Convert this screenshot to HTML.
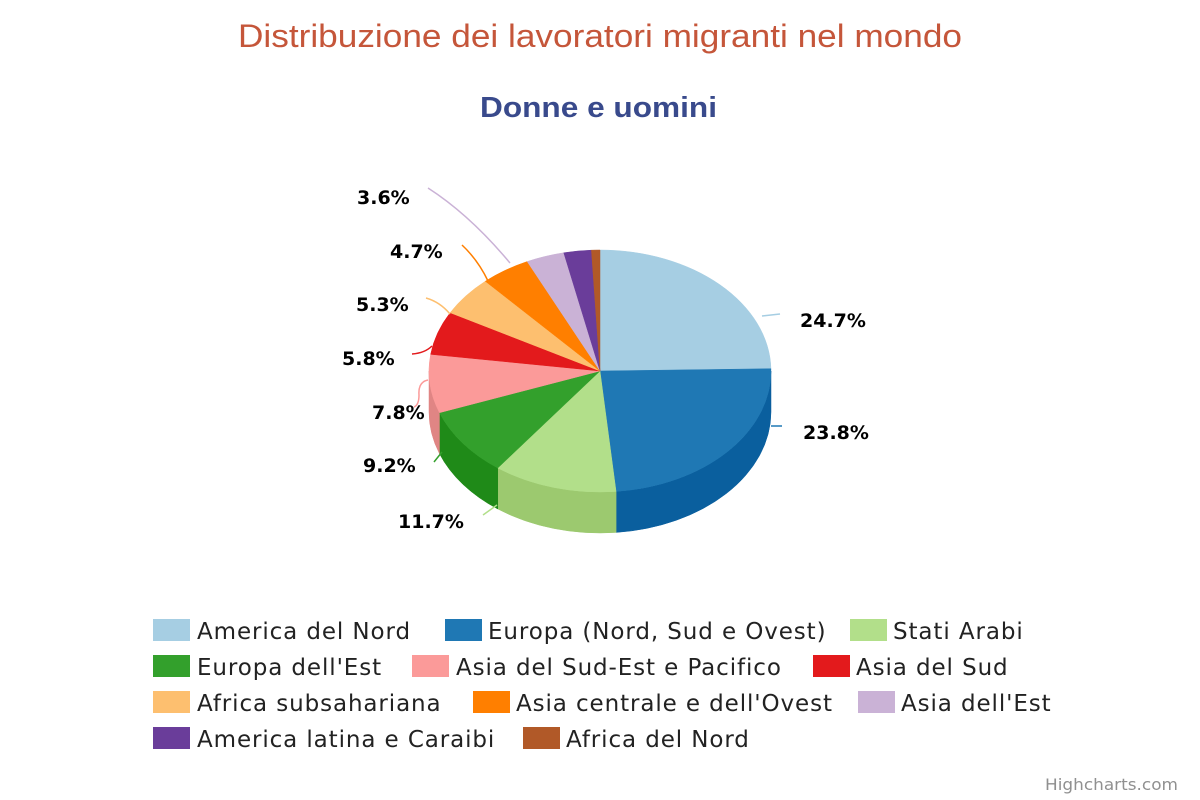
<!DOCTYPE html>
<html><head><meta charset="utf-8"><style>
html,body{margin:0;padding:0;background:#fff;width:1200px;height:800px;overflow:hidden}
</style></head><body>
<svg id="s" width="1200" height="800" xmlns="http://www.w3.org/2000/svg">
<text x="238" y="47" textLength="724" lengthAdjust="spacingAndGlyphs" font-family="Liberation Sans, sans-serif" font-size="32" fill="#c5563a">Distribuzione dei lavoratori migranti nel mondo</text>
<text x="480" y="117" textLength="237" lengthAdjust="spacingAndGlyphs" font-family="Liberation Sans, sans-serif" font-size="29" font-weight="bold" fill="#394a8c">Donne e uomini</text>
<g id="pie"></g>
<g fill="none" stroke-width="1.5">
<path d="M762 316 L780 314" stroke="#a6cee3"/>
<path d="M771 426 L782 426" stroke="#1f78b4"/>
<path d="M497 505 L483 515" stroke="#b2df8a"/>
<path d="M442 452 L434 462" stroke="#33a02c"/>
<path d="M428 380 Q418 382 419 395 Q419 405 414 407" stroke="#fb9a99"/>
<path d="M432 346 Q425 353 412 354" stroke="#e31a1c"/>
<path d="M450 314 Q440 302 426 298" stroke="#fdbf6f"/>
<path d="M488 281 Q478 260 462 245" stroke="#ff7f00"/>
<path d="M510 263 Q470 215 428 188" stroke="#cab2d6"/>
</g>
<g font-family="DejaVu Sans, sans-serif" font-size="19" font-weight="bold" fill="#000">
<text x="800" y="327">24.7%</text>
<text x="803" y="439">23.8%</text>
<text x="398" y="528">11.7%</text>
<text x="363" y="472">9.2%</text>
<text x="372" y="419">7.8%</text>
<text x="342" y="365">5.8%</text>
<text x="356" y="311">5.3%</text>
<text x="390" y="258">4.7%</text>
<text x="357" y="204">3.6%</text>
</g>
<g font-family="DejaVu Sans, sans-serif" font-size="23" fill="#222" letter-spacing="0.9">
<rect x="153" y="619" width="37" height="22" fill="#a6cee3"/><text x="197" y="639">America del Nord</text>
<rect x="445" y="619" width="37" height="22" fill="#1f78b4"/><text x="488" y="639">Europa (Nord, Sud e Ovest)</text>
<rect x="850" y="619" width="37" height="22" fill="#b2df8a"/><text x="893" y="639">Stati Arabi</text>
<rect x="153" y="655" width="37" height="22" fill="#33a02c"/><text x="197" y="675">Europa dell'Est</text>
<rect x="412" y="655" width="37" height="22" fill="#fb9a99"/><text x="456" y="675">Asia del Sud-Est e Pacifico</text>
<rect x="813" y="655" width="37" height="22" fill="#e31a1c"/><text x="856" y="675">Asia del Sud</text>
<rect x="153" y="691" width="37" height="22" fill="#fdbf6f"/><text x="197" y="711">Africa subsahariana</text>
<rect x="473" y="691" width="37" height="22" fill="#ff7f00"/><text x="516" y="711">Asia centrale e dell'Ovest</text>
<rect x="858" y="691" width="37" height="22" fill="#cab2d6"/><text x="901" y="711">Asia dell'Est</text>
<rect x="153" y="727" width="37" height="22" fill="#6a3d9a"/><text x="197" y="747">America latina e Caraibi</text>
<rect x="523" y="727" width="37" height="22" fill="#b15928"/><text x="566" y="747">Africa del Nord</text>
</g>
<text x="1045" y="790" textLength="133" lengthAdjust="spacingAndGlyphs" font-family="DejaVu Sans, sans-serif" font-size="16" fill="#909090">Highcharts.com</text>
</svg>
<script>
(function(){
var cx=600,cy=371,rx=171,ry=121,d=41;
var vals=[24.7,23.8,11.7,9.2,7.8,5.8,5.3,4.7,3.6,2.6,0.8];
var cols=["#a6cee3","#1f78b4","#b2df8a","#33a02c","#fb9a99","#e31a1c","#fdbf6f","#ff7f00","#cab2d6","#6a3d9a","#b15928"];
var side=["#8fb7cc","#0a5f9e","#9cc96f","#1f8a18","#e08584","#c40e10","#e0a557","#e06a00","#b39dc0","#55287f","#964516"];
var tot=0;vals.forEach(function(v){tot+=v});
function P(a,dy){a=a*Math.PI/180;return [(cx+rx*Math.sin(a)).toFixed(2),(cy-ry*Math.cos(a)+(dy||0)).toFixed(2)];}
var g=document.getElementById('pie'),h='',tops='',acc=0;
vals.forEach(function(v,i){
 var s=acc/tot*360,e=(acc+v)/tot*360;acc+=v;
 var a=P(s),b=P(e),lg=(e-s)>180?1:0;
 tops+='<path d="M'+cx+' '+cy+' L'+a+' A'+rx+' '+ry+' 0 '+lg+' 1 '+b+' Z" fill="'+cols[i]+'" stroke="'+cols[i]+'" stroke-width="0.5"/>';
 var ss=Math.max(s,90),ee=Math.min(e,270);
 if(ee>ss){
  var p1=P(ss),p2=P(ee),p3=P(ee,d),p4=P(ss,d);
  h+='<path d="M'+p1+' A'+rx+' '+ry+' 0 0 1 '+p2+' L'+p3+' A'+rx+' '+ry+' 0 0 0 '+p4+' Z" fill="'+side[i]+'" stroke="'+side[i]+'" stroke-width="0.5"/>';
 }
});
g.innerHTML=h+tops;
})();
</script>
</body></html>
